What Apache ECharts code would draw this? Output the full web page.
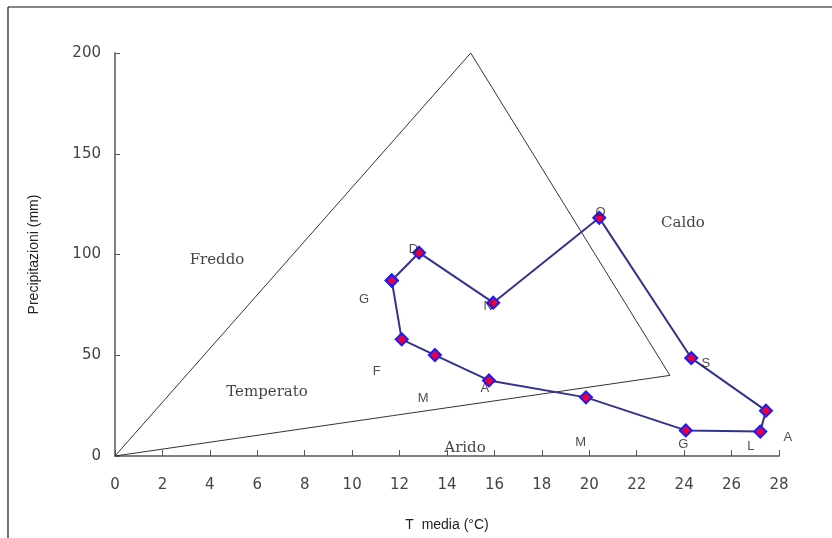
<!DOCTYPE html>
<html>
<head>
<meta charset="utf-8">
<script src="https://cdn.jsdelivr.net/npm/echarts@6/dist/echarts.min.js"></script>
<style>
  html, body { margin: 0; padding: 0; background: #fff; }
  #chart { width: 832px; height: 538px; }
</style>
</head>
<body>
<div id="chart"></div>
<script>
// monthly climate loop (Jan..Dec), T media vs precipitazioni
const tempMedia = [11.67, 12.09, 13.49, 15.77, 19.86, 24.07, 27.21, 27.45, 24.30, 20.42, 15.95, 12.82];
const precipitazioni = [87.1, 57.9, 50.1, 37.5, 29.1, 12.7, 12.1, 22.5, 48.6, 118.2, 76.1, 100.9];

// month letters and where they sit
const monthLetters = ['G', 'F', 'M', 'A', 'M', 'G', 'L', 'A', 'S', 'O', 'N', 'D'];
const letterX = [10.50, 11.04, 13.00, 15.60, 19.64, 23.96, 26.81, 28.37, 24.92, 20.48, 15.74, 12.58];
const letterY = [77.7, 42.2, 28.5, 33.4, 6.6, 5.8, 4.7, 9.1, 46.0, 121.0, 74.1, 102.5];

// climate triangle
const triangleX = [0, 15, 23.4, 0];
const triangleY = [0, 200, 40, 0];

// region names
const regionNames = ['Freddo', 'Temperato', 'Arido', 'Caldo'];
const regionX = [4.30, 6.41, 14.76, 23.95];
const regionY = [97.0, 31.6, 3.8, 115.4];

const loopData = tempMedia.map((t, i) => [t, precipitazioni[i]]);
loopData.push([tempMedia[0], precipitazioni[0]]);

const getOption = () => {
  return {
    animation: false,
    backgroundColor: '#fff',
    grid: { left: 115, right: 53, top: 53, bottom: 82 },
    graphic: [
      { type: 'line', shape: { x1: 8, y1: 7, x2: 832, y2: 7 }, style: { stroke: '#111', lineWidth: 1.2 } },
      { type: 'line', shape: { x1: 8, y1: 7, x2: 8, y2: 538 }, style: { stroke: '#111', lineWidth: 1.2 } }
    ],
    xAxis: {
      type: 'value',
      min: 0, max: 28, interval: 2,
      name: 'T  media (°C)',
      nameLocation: 'middle',
      nameGap: 62,
      nameTextStyle: { fontFamily: 'Liberation Sans', fontSize: 14, color: '#222' },
      axisLine: { lineStyle: { color: '#555', width: 1.5 } },
      axisTick: { inside: true, length: 6, lineStyle: { color: '#555' } },
      axisLabel: { margin: 22, fontFamily: 'DejaVu Sans', fontSize: 15, color: '#444' },
      splitLine: { show: false }
    },
    yAxis: {
      type: 'value',
      min: 0, max: 200, interval: 50,
      name: 'Precipitazioni (mm)',
      nameLocation: 'middle',
      nameGap: 74,
      nameTextStyle: { fontFamily: 'Liberation Sans', fontSize: 14, color: '#222' },
      axisLine: { show: true, lineStyle: { color: '#555', width: 1.5 } },
      axisTick: { show: true, inside: true, length: 5, lineStyle: { color: '#555' } },
      axisLabel: { margin: 14, fontFamily: 'DejaVu Sans', fontSize: 15, color: '#444' },
      splitLine: { show: false }
    },
    series: [
      {
        type: 'line',
        data: triangleX.map((x, i) => [x, triangleY[i]]),
        symbol: 'none',
        lineStyle: { color: '#333', width: 1 },
        z: 1
      },
      {
        type: 'line',
        data: loopData,
        symbol: 'diamond',
        symbolSize: 12,
        lineStyle: { color: '#33338f', width: 2 },
        itemStyle: { color: '#e8003c', borderColor: '#1a1aff', borderWidth: 2 },
        z: 3
      },
      {
        type: 'scatter',
        clip: false,
        symbolSize: 0,
        data: monthLetters.map((m, i) => ({ value: [letterX[i], letterY[i]], name: m })),
        label: {
          show: true, position: 'inside', formatter: '{b}',
          fontFamily: 'Liberation Sans', fontSize: 13, color: '#222'
        },
        z: 4
      },
      {
        type: 'scatter',
        clip: false,
        symbolSize: 0,
        data: regionNames.map((r, i) => ({ value: [regionX[i], regionY[i]], name: r })),
        label: {
          show: true, position: 'inside', formatter: '{b}',
          fontFamily: 'DejaVu Serif', fontSize: 15, color: '#111'
        },
        z: 4
      }
    ]
  };
};

const chart = echarts.init(document.getElementById('chart'));
chart.setOption(getOption());
</script>
</body>
</html>
